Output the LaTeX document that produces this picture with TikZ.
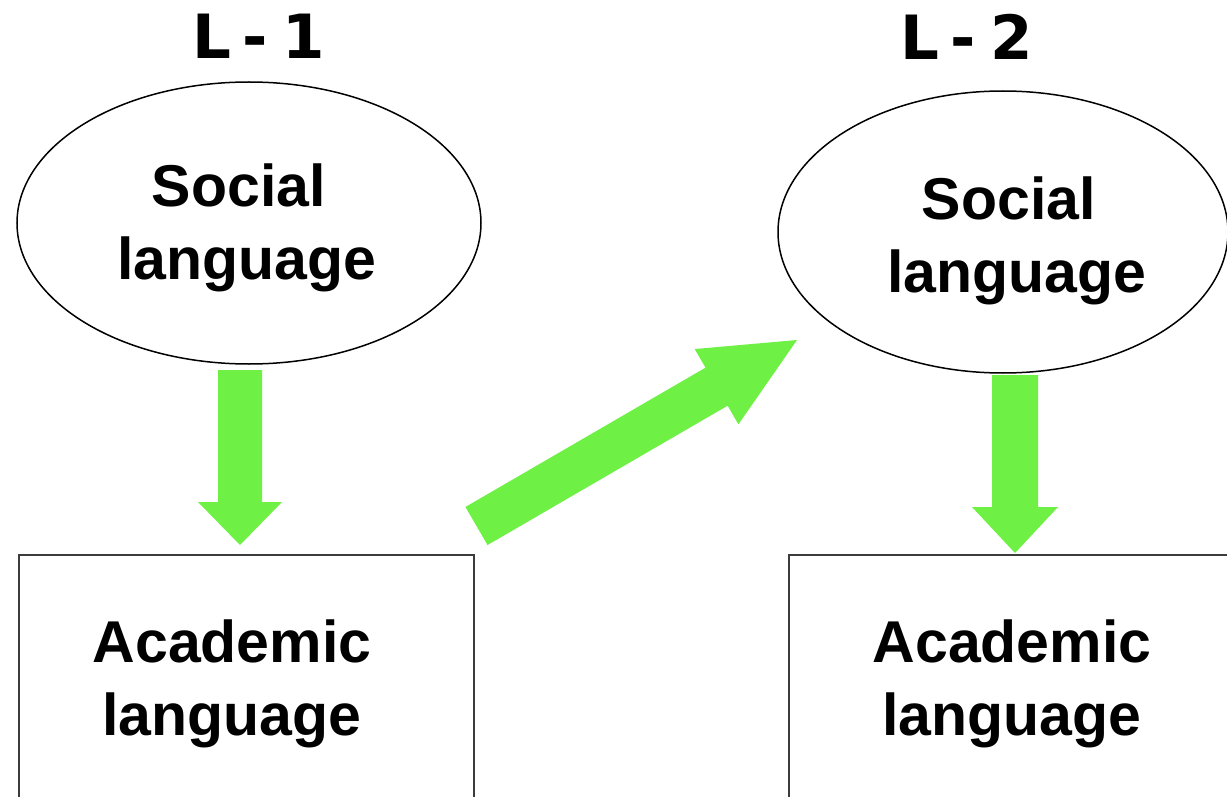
\documentclass[tikz,border=0pt]{standalone}
\usepackage{fontspec}
\setmainfont{Liberation Sans}
\newfontfamily\titlefont{DejaVu Sans}
\usetikzlibrary{calc,shapes.geometric}
\definecolor{arrowgreen}{RGB}{110,240,68}
\definecolor{boxline}{RGB}{60,60,60}
\newcommand\fatarrow[5]{% from #1 to #2, shaft half-width #3, head length #4, head half-width #5
  \fill[arrowgreen]
    ($(#1)!#3!90:(#2)$) --
    ($(#2)!#4!(#1)!#3!-90:(#1)$) --
    ($(#2)!#4!(#1)!#5!-90:(#1)$) --
    (#2) --
    ($(#2)!#4!(#1)!#5!90:(#1)$) --
    ($(#2)!#4!(#1)!#3!90:(#1)$) --
    ($(#1)!#3!-90:(#2)$) -- cycle;}
\begin{document}
\begin{tikzpicture}[x=1pt,y=-1pt,
  title/.style={font=\titlefont\bfseries\fontsize{61}{61}\selectfont, inner sep=0pt},
  social/.style={ellipse, draw=black, line width=1.5pt, inner sep=0pt,
    minimum width=#1, minimum height=282pt},
  acbox/.style={rectangle, draw=boxline, line width=2pt, inner sep=0pt,
    minimum width=#1, minimum height=260pt},
  label/.style={align=center, inner sep=0pt, font=\bfseries\fontsize{59}{73}\selectfont}]
\useasboundingbox (0,0) rectangle (1227,797);
\clip (0,0) rectangle (1227,797);
\fill[white] (0,0) rectangle (1227,797);
% titles
\node[title] (t1) at (259,36) {L\hspace{0.18em}-\hspace{0.24em}1};
\node[title] (t2) at (967,37) {L\hspace{0.18em}-\hspace{0.24em}2};
% ellipses
\node[social=464pt] (s1) at (249,223) {};
\node[social=450pt] (s2) at (1003,232) {};
\node[label] (s1t) at (247,228) {Social\hspace*{0.28em}\\language};
\node[label] (s2t) at (1017,241) {Social\hspace*{0.28em}\\language};
% boxes
\node[acbox=455pt, anchor=north west] (a1) at (18,554) {};
\node[acbox=460pt, anchor=north west] (a2) at (788,554) {};
\node[label] (a1t) at (232,684) {Academic\\language};
\node[label] (a2t) at (1012,684) {Academic\\language};
% arrow end points
\coordinate (d1s) at (240,370);
\coordinate (d1e) at (240,545);
\coordinate (d2s) at (1015,375);
\coordinate (d2e) at (1015,553);
\coordinate (xs) at (476.5,526);
\coordinate (xe) at (797,340);
% arrows
\fatarrow{d1s}{d1e}{22pt}{43pt}{42pt}
\fatarrow{d2s}{d2e}{23pt}{46pt}{43pt}
\fatarrow{xs}{xe}{22pt}{93pt}{43.5pt}
\end{tikzpicture}
\end{document}
